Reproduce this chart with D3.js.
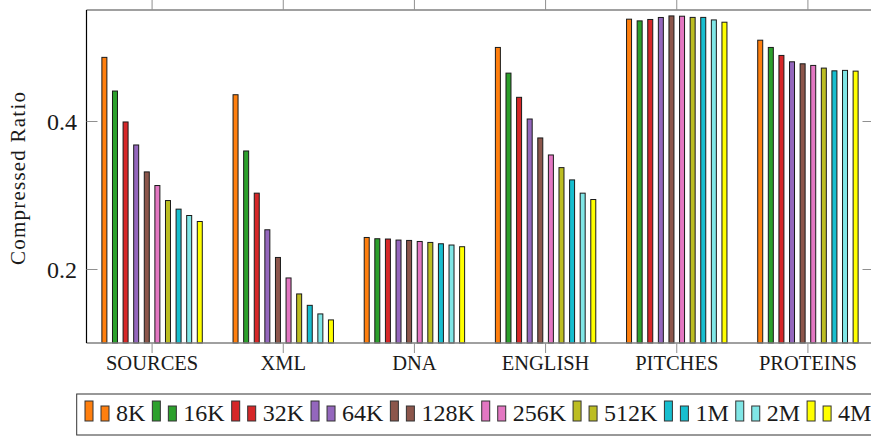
<!DOCTYPE html>
<html>
<head>
<meta charset="utf-8">
<script src="https://cdn.jsdelivr.net/npm/d3@7"></script>
<style>
  html, body { margin: 0; padding: 0; background: #fff; overflow: hidden; }
  svg text { font-family: "Liberation Serif", "DejaVu Serif", serif !important; fill: #1a1a1a; }
</style>
</head>
<body>
<svg id="chart" width="871" height="436"></svg>
<script>
const categories = ["SOURCES", "XML", "DNA", "ENGLISH", "PITCHES", "PROTEINS"];
const seriesNames = ["8K", "16K", "32K", "64K", "128K", "256K", "512K", "1M", "2M", "4M"];
const seriesColors = ["#ff7f0e", "#2ca02c", "#d62728", "#9467bd", "#8c564b", "#e377c2", "#bcbd22", "#17becf", "#80e6e6", "#ffff00"];
// values[series][category]
const s8K   = [0.486, 0.4355, 0.2426, 0.4994, 0.5376, 0.5092];
const s16K  = [0.4405, 0.3595, 0.2409, 0.4647, 0.5353, 0.4994];
const s32K  = [0.3987, 0.3025, 0.2405, 0.4320, 0.5372, 0.4886];
const s64K  = [0.3676, 0.2530, 0.2391, 0.4027, 0.5399, 0.4800];
const s128K = [0.3312, 0.2156, 0.2386, 0.3771, 0.5420, 0.4773];
const s256K = [0.3128, 0.1879, 0.2372, 0.3541, 0.5416, 0.4751];
const s512K = [0.2925, 0.1663, 0.2359, 0.3370, 0.5400, 0.4715];
const s1M   = [0.2809, 0.1509, 0.2341, 0.3204, 0.5400, 0.4678];
const s2M   = [0.2723, 0.1393, 0.2324, 0.3025, 0.5366, 0.4684];
const s4M   = [0.2642, 0.1312, 0.2301, 0.2939, 0.5335, 0.4674];
const seriesValues = [s8K, s16K, s32K, s64K, s128K, s256K, s512K, s1M, s2M, s4M];
const yTicks = [0.2, 0.4];
const yLabel = "Compressed Ratio";

const FONT = '"Liberation Serif", "DejaVu Serif", serif';
const svg = d3.select("#chart");
const L = 86.5, R = 873.5, T = 10, B = 343;

const x0 = d3.scaleBand().domain(categories).range([L, R]).paddingInner(0).paddingOuter(0);
const barStep = 10.6, barW = 5;
const y = d3.scaleLinear().domain([0.1, 0.55]).range([B, T]);

// bars
seriesNames.forEach((name, si) => {
  svg.append("g").selectAll("rect")
    .data(categories.map((c, ci) => ({ c, v: seriesValues[si][ci] })))
    .join("rect")
    .attr("x", d => x0(d.c) + x0.bandwidth() / 2 + (si - 4.5) * barStep - barW / 2)
    .attr("y", d => y(d.v))
    .attr("width", barW)
    .attr("height", d => y(0.1) - y(d.v))
    .attr("fill", seriesColors[si])
    .attr("stroke", "#1a1a1a")
    .attr("stroke-width", 1);
});

// axes frame
svg.append("line").attr("x1", L).attr("x2", R).attr("y1", T).attr("y2", T)
  .attr("stroke", "#808080").attr("stroke-width", 1.5);
svg.append("line").attr("x1", L).attr("x2", R).attr("y1", B).attr("y2", B)
  .attr("stroke", "#808080").attr("stroke-width", 1.5);
svg.append("line").attr("x1", L).attr("x2", L).attr("y1", T).attr("y2", B)
  .attr("stroke", "#000").attr("stroke-width", 1.2);
svg.append("line").attr("x1", R).attr("x2", R).attr("y1", T).attr("y2", B)
  .attr("stroke", "#000").attr("stroke-width", 1.2);

// x axis ticks (outside) bottom and top
const xAxisB = d3.axisBottom(x0).tickSize(10).tickPadding(4).tickSizeOuter(0);
const gxb = svg.append("g").attr("transform", `translate(0,${B})`).call(xAxisB)
  .attr("font-family", FONT);
gxb.select(".domain").remove();
gxb.selectAll(".tick line").attr("stroke", "#909090").attr("stroke-width", 1);
gxb.selectAll(".tick text").attr("y", 26.5).attr("dy", null)
  .style("font-family", FONT).style("font-size", "20.5px").attr("fill", "#1a1a1a");

const xAxisT = d3.axisTop(x0).tickSize(10).tickFormat("").tickSizeOuter(0);
const gxt = svg.append("g").attr("transform", `translate(0,${T})`).call(xAxisT);
gxt.select(".domain").remove();
gxt.selectAll(".tick line").attr("stroke", "#909090").attr("stroke-width", 1);

// y axis ticks (inside) left and right
const yAxisL = d3.axisLeft(y).tickValues(yTicks).tickSize(-11).tickPadding(21).tickFormat(d3.format(".1f"));
const gyl = svg.append("g").attr("transform", `translate(${L},0)`).call(yAxisL)
  .attr("font-family", FONT);
gyl.select(".domain").remove();
gyl.selectAll(".tick line").attr("stroke", "#909090").attr("stroke-width", 1);
gyl.selectAll(".tick text").attr("x", -9.5).attr("dy", "8.5px")
  .style("font-family", FONT).style("font-size", "24px").attr("fill", "#1a1a1a");

const yAxisR = d3.axisRight(y).tickValues(yTicks).tickSize(-11).tickFormat("");
const gyr = svg.append("g").attr("transform", `translate(${R},0)`).call(yAxisR);
gyr.select(".domain").remove();
gyr.selectAll(".tick line").attr("stroke", "#909090").attr("stroke-width", 1);

// y label
svg.append("text")
  .attr("transform", `translate(25,${(92 + 265) / 2}) rotate(-90)`)
  .attr("text-anchor", "middle")
  .attr("textLength", 173).attr("lengthAdjust", "spacing")
  .style("font-family", FONT).style("font-size", "21px")
  .text(yLabel);

// legend
const lg = svg.append("g");
lg.append("rect").attr("x", 76.7).attr("y", 394).attr("width", 900).attr("height", 41)
  .attr("fill", "#fff").attr("stroke", "#333").attr("stroke-width", 1);
let cx = 85;
seriesNames.forEach((name, si) => {
  const g = lg.append("g");
  g.append("rect").attr("x", cx).attr("y", 401).attr("width", 8).attr("height", 20)
    .attr("fill", seriesColors[si]).attr("stroke", "#333").attr("stroke-width", 1);
  g.append("rect").attr("x", cx + 16).attr("y", 406).attr("width", 8).attr("height", 15)
    .attr("fill", seriesColors[si]).attr("stroke", "#333").attr("stroke-width", 1);
  const t = g.append("text").attr("x", cx + 31).attr("y", 421)
    .style("font-family", FONT).style("font-size", "24px").text(name);
  const w = t.node().getComputedTextLength();
  cx += 31 + w + 7;
});
</script>
</body>
</html>
